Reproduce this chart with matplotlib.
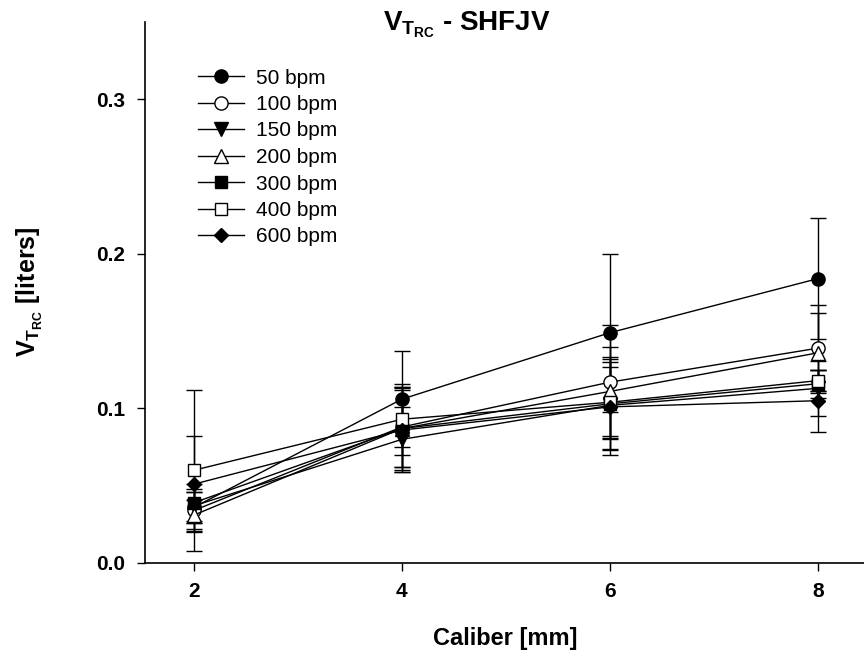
import matplotlib
matplotlib.use("Agg")
import matplotlib.pyplot as plt
from matplotlib.lines import Line2D

plt.rcParams["font.family"] = ["Liberation Sans", "DejaVu Sans"]
plt.rcParams["mathtext.fontset"] = "custom"
plt.rcParams["mathtext.rm"] = "Liberation Sans"
plt.rcParams["mathtext.bf"] = "Liberation Sans:bold"
plt.rcParams["mathtext.it"] = "Liberation Sans:italic"

# Tube caliber [mm]
caliber = [2, 4, 6, 8]

# Mean tidal volume per frequency [liters]
v_50 = [0.036, 0.106, 0.149, 0.184]
v_100 = [0.034, 0.088, 0.117, 0.139]
v_150 = [0.037, 0.080, 0.102, 0.113]
v_200 = [0.031, 0.087, 0.111, 0.136]
v_300 = [0.039, 0.087, 0.103, 0.116]
v_400 = [0.060, 0.093, 0.104, 0.118]
v_600 = [0.051, 0.086, 0.101, 0.105]

# Standard deviations [liters]
sd_50 = [0.010, 0.031, 0.051, 0.039]
sd_100 = [0.012, 0.026, 0.037, 0.028]
sd_150 = [0.011, 0.021, 0.028, 0.018]
sd_200 = [0.010, 0.025, 0.029, 0.026]
sd_300 = [0.012, 0.027, 0.030, 0.009]
sd_400 = [0.052, 0.023, 0.023, 0.007]
sd_600 = [0.031, 0.027, 0.031, 0.020]

labels = ["50 bpm", "100 bpm", "150 bpm", "200 bpm", "300 bpm", "400 bpm", "600 bpm"]
means = [v_50, v_100, v_150, v_200, v_300, v_400, v_600]
sds = [sd_50, sd_100, sd_150, sd_200, sd_300, sd_400, sd_600]
styles = [
    ("o", "black", 9.5),
    ("o", "white", 9.5),
    ("v", "black", 9.5),
    ("^", "white", 9.5),
    ("s", "black", 8.0),
    ("s", "white", 8.0),
    ("D", "black", 7.5),
]

fig = plt.figure(figsize=(8.64, 6.58), dpi=100)
ax = fig.add_axes([145 / 864, 1 - 563 / 658, 725 / 864, (563 - 22) / 658])

handles = []
for y, e, lab, (m, fc, ms) in zip(means, sds, labels, styles):
    ax.errorbar(caliber, y, yerr=e, fmt="none", ecolor="black",
                elinewidth=1.0, capsize=5.5, capthick=1.0, zorder=2)
    ax.plot(caliber, y, color="black", lw=1.0, marker=m, ms=ms,
            mfc=fc, mec="black", mew=1.0, zorder=3)
    handles.append(Line2D([], [], color="black", lw=1.0, marker=m, ms=ms,
                          mfc=fc, mec="black", mew=1.0, label=lab))

ax.set_xlim(1.53, 8.5)
ax.set_ylim(0, 0.35)
ax.set_xticks([2, 4, 6, 8])
ax.set_yticks([0.0, 0.1, 0.2, 0.3])
ax.set_yticklabels(["0.0", "0.1", "0.2", "0.3"])
for s in ("top", "right"):
    ax.spines[s].set_visible(False)
for s in ("left", "bottom"):
    ax.spines[s].set_linewidth(1.2)
ax.tick_params(direction="out", length=6, width=1.0, labelsize=15, pad=8)
for t in ax.get_xticklabels() + ax.get_yticklabels():
    t.set_fontweight("bold")

ax.legend(handles=handles, loc="upper left", bbox_to_anchor=(198 / 864, 1 - 68.5 / 658),
          bbox_transform=fig.transFigure, frameon=False, fontsize=15,
          handlelength=2.2, handletextpad=0.6, labelspacing=0.36, borderpad=0,
          borderaxespad=0)

fig.text(505 / 864, 1 - 638 / 658, "Caliber [mm]", ha="center", va="center",
         fontsize=17, fontweight="bold")
fig.text(30 / 864, 1 - 292 / 658, r"$\mathbf{V_{T_{RC}}}$ [liters]", ha="center",
         va="center", rotation=90, fontsize=18, fontweight="bold")
fig.text(467 / 864, 1 - 25 / 658, r"$\mathbf{V_{T_{RC}}}$ - SHFJV", ha="center",
         va="center", fontsize=20, fontweight="bold")

fig.savefig("out.png", dpi=100)
